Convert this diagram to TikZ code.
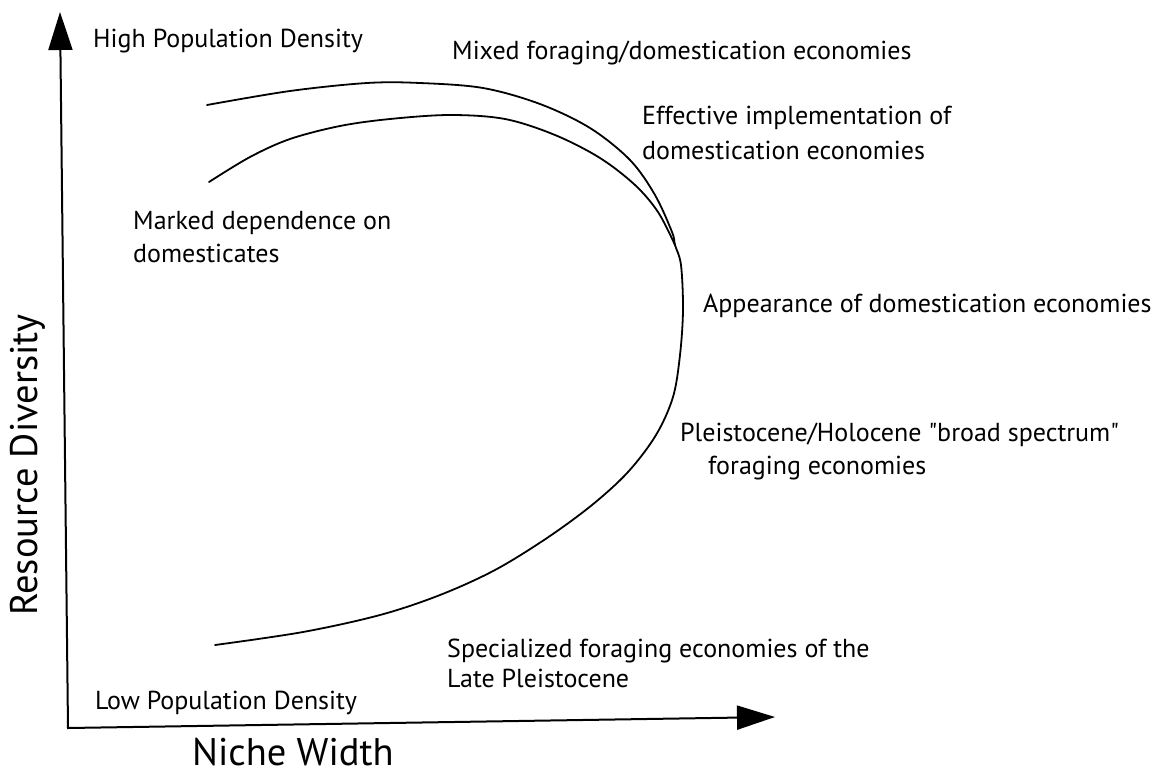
\documentclass[tikz,border=0pt]{standalone}
\usepackage{fontspec}
\setmainfont{PT Sans}
\usetikzlibrary{arrows.meta}
\tikzset{
  axisline/.style={line width=2pt,line join=miter,{Triangle[length=38pt,width=24pt]}-{Triangle[length=38pt,width=24pt]}},
  curveline/.style={line width=1.8pt,line cap=round},
  lbl/.style={anchor=base west,inner sep=0pt,align=left,font=\fontsize{26}{33}\selectfont},
  biglbl/.style={inner sep=0pt,font=\fontsize{38.5}{46}\selectfont}
}
\begin{document}
\begin{tikzpicture}[x=1pt,y=-1pt]
\useasboundingbox (0,0) rectangle (1165,777);
% Draw axes
\coordinate (origin) at (68,728);
\coordinate (ytip) at (60,12);
\coordinate (xtip) at (775,717);
\draw[axisline] (ytip) -- (origin) -- (xtip);

% Draw curves
\coordinate (merge) at (675,245);
\draw[curveline] plot[smooth,tension=0.55] coordinates {(207,105) (290,91) (367,83) (420,83) (483,88) (540,104) (590,128) (630,160) (655,195) (672,232) (merge) (681,265) (683,310) (680,355) (673,397) (656,435) (628,472) (592,505) (547,538) (495,570) (440,595) (380,615) (303,632) (215,645)};
\draw[curveline] plot[smooth,tension=0.55] coordinates {(209,182) (250,157) (290,139) (340,126) (390,119) (450,115) (505,119) (555,135) (600,158) (635,185) (658,212) (merge)};

% Labels (multi-line nodes sit on their last baseline)
\node[lbl] (high) at (93,47) {High Population Density};
\node[lbl] (mixed) at (452,59) {Mixed foraging/domestication economies};
\node[lbl,font=\fontsize{26}{35}\selectfont] (effective) at (642,159) {Effective implementation of\\domestication economies};
\node[lbl] (marked) at (133,262) {Marked dependence on\\domesticates};
\node[lbl] (appear) at (703,312) {Appearance of domestication economies};
\node[lbl] (broad) at (680,474) {Pleistocene/Holocene \textquotedbl broad spectrum\textquotedbl\\\hspace*{28pt}foraging economies};
\node[lbl,font=\fontsize{26}{30}\selectfont] (special) at (447,687) {Specialized foraging economies of the\\Late Pleistocene};
\node[lbl] (low) at (95,709) {Low Population Density};

% Axis titles
\node[biglbl,anchor=base west] (nichew) at (192,765) {Niche Width};
\node[biglbl,rotate=90] (resdiv) at (28,465) {Resource Diversity};
\end{tikzpicture}
\end{document}
